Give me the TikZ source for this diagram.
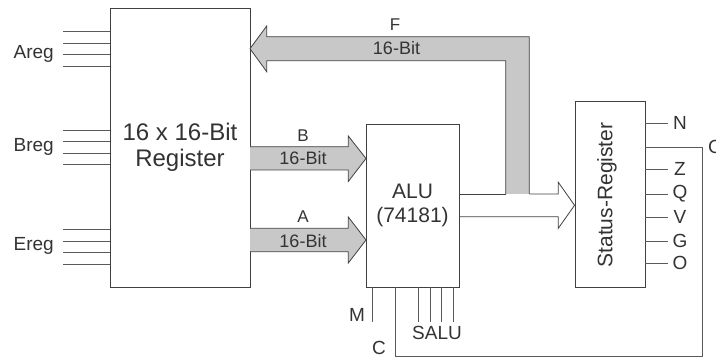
\documentclass[tikz,border=0pt]{standalone}
\usepackage{fontspec}
\setmainfont{Liberation Sans}
\definecolor{lc}{HTML}{404040}
\definecolor{gc}{HTML}{C8C8C8}
\definecolor{tc}{HTML}{333333}
\definecolor{wc}{HTML}{5A5A5A}
\begin{document}
\begin{tikzpicture}[x=1pt,y=-1pt,
  box/.style={draw=lc, line width=0.9pt, fill=white, inner sep=0pt, text=tc, align=center},
  wire/.style={draw=wc, line width=0.8pt},
  bus/.style={draw=lc, line width=0.8pt},
  lbl/.style={text=tc, inner sep=0pt, font=\fontsize{19}{22}\selectfont},
  blbl/.style={text=tc, inner sep=0pt, font=\fontsize{17}{20}\selectfont},
  wlbl/.style={text=tc, inner sep=0pt, font=\fontsize{18}{20}\selectfont},
  ]
\useasboundingbox (0,0) rectangle (716,358);

% boxes
\node[box, minimum width=140pt, minimum height=279pt, font=\fontsize{24}{26}\selectfont] (reg) at (180,147.5) {16 x 16-Bit\\Register};
\node[box, minimum width=93pt, minimum height=163pt, font=\fontsize{21}{24}\selectfont] (alu) at (412.5,205.5) {ALU\\(74181)};
\node[box, minimum width=70pt, minimum height=186pt] (sr) at (610,194) {};
\node[rotate=90, text=tc, inner sep=0pt, font=\fontsize{21}{24}\selectfont] (srt) at (607,195) {Status-Register};

% register inputs
\foreach \y in {31,43,54,66,130,141,153,164,229,241,252,264}
  \draw[wire] (63,\y) -- (110,\y);
\node[lbl, anchor=east] (areg) at (54,54) {Areg};
\node[lbl, anchor=east] (breg) at (54,147) {Breg};
\node[lbl, anchor=east] (ereg) at (54,246) {Ereg};

% B bus
\filldraw[fill=gc, draw=lc, line width=0.8pt] (250,146.7) -- (348.3,146.7) -- (348.3,136) -- (366,158.5) -- (348.3,181.5) -- (348.3,170) -- (250,170);
\node[blbl] (bl) at (303,136) {B};
\node[wlbl] (bw) at (303,158.5) {16-Bit};

% A bus
\filldraw[fill=gc, draw=lc, line width=0.8pt] (250,228.3) -- (348.3,228.3) -- (348.3,217) -- (366,240) -- (348.3,263) -- (348.3,251.7) -- (250,251.7);
\node[blbl] (al) at (303,217) {A};
\node[wlbl] (aw) at (303,241) {16-Bit};

% F bus
\fill[gc] (529.3,194) -- (529.3,36.7) -- (266.7,36.7) -- (266.7,26) -- (250,48.7) -- (266.7,71.7) -- (266.7,60.7) -- (505.7,60.7) -- (505.7,194) -- cycle;
\draw[bus] (529.3,194) -- (529.3,36.7) -- (266.7,36.7) -- (266.7,26) -- (250,48.7) -- (266.7,71.7) -- (266.7,60.7) -- (505.7,60.7) -- (505.7,194);
\node[blbl] (fl) at (395,25) {F};
\node[wlbl] (fw) at (396.5,48.5) {16-Bit};

% ALU -> status (hollow)
\draw[bus] (alu.east |- 0,194) -- (505.7,194);
\draw[bus] (529.3,194) -- (558.3,194) -- (558.3,182.3) -- (sr.west |- 0,205.3) -- (558.3,228.3) -- (558.3,216.7) -- (alu.east |- 0,216.7);

% ALU control inputs
\draw[wire] (372.3,287) -- (372.3,322);
\foreach \x in {418.3,430,441.7,453.3}
  \draw[wire] (\x,287) -- (\x,322);
\node[lbl] (m) at (357,315) {M};
\node[lbl] (salu) at (437,333) {SALU};
\node[lbl] (cl) at (379,348) {C};

% status outputs
\foreach \y/\t in {123/N,169/Z,194/Q,217/V,241/G,263/O}{
  \draw[wire] (645,\y) -- (668,\y);
  \node[lbl] at (680,\y) {\t};
}
% carry loop
\draw[wire] (645,147) -- (702,147) -- (702,356) -- (395,356) -- (395,287);
\node[lbl, anchor=west] (cr) at (708,147) {C};
\end{tikzpicture}
\end{document}
